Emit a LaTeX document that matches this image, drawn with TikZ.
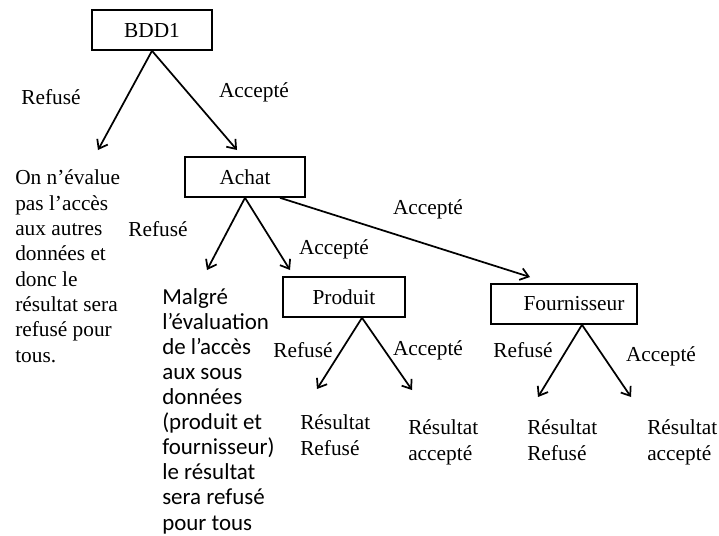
\documentclass[tikz,border=0pt]{standalone}
\usepackage{fontspec}
\setmainfont{Liberation Serif}
\newfontfamily\calib{Carlito}
\usetikzlibrary{arrows.meta}
\begin{document}
\begin{tikzpicture}[x=0.75pt,y=-0.75pt,
  box/.style={draw,line width=1.2pt,minimum width=90pt,minimum height=30pt,inner sep=0pt,font=\fontsize{16}{19}\selectfont},
  lbl/.style={inner sep=0pt,font=\fontsize{16}{19}\selectfont},
  txt/.style={inner sep=0pt,align=left,anchor=base west,font=\fontsize{16}{19}\selectfont},
  sans/.style={inner sep=0pt,align=left,anchor=base west,font=\calib\fontsize{17.2}{18.8}\selectfont},
  arr/.style={line width=1.3pt,-{Straight Barb[length=6pt,width=9pt,line width=1.3pt]}}]
\useasboundingbox (0,0) rectangle (719,536);

% decision boxes
\node[box] (bdd) at (152,30) {BDD1};
\node[box] (achat) at (245,177) {Achat};
\node[box,minimum width=91.5pt] (produit) at (344,297) {Produit};
\node[box,minimum width=109.5pt] (fourn) at (564,304) {\hspace{15pt}Fournisseur};

% arrow end points
\coordinate (t1) at (98,150);
\coordinate (t2) at (237,150);
\coordinate (t3) at (207,270);
\coordinate (t4) at (290,270);
\coordinate (t5) at (530,277);
\coordinate (t6) at (317,389);
\coordinate (t7) at (412,390);
\coordinate (t8) at (538,397);
\coordinate (t9) at (631,397);

\draw[arr] (bdd.south) -- (t1);
\draw[arr] (bdd.south) -- (t2);
\draw[arr] (achat.south) -- (t3);
\draw[arr] (achat.south) -- (t4);
\draw[arr] ([xshift=26.25pt]achat.south) -- (t5);
\draw[arr] ([xshift=13.5pt]produit.south) -- (t6);
\draw[arr] ([xshift=13.5pt]produit.south) -- (t7);
\draw[arr] ([xshift=13.5pt]fourn.south) -- (t8);
\draw[arr] ([xshift=13.5pt]fourn.south) -- (t9);

% branch labels
\node[lbl] (l1) at (51,97) {Refusé};
\node[lbl] (l2) at (254,92) {Accepté};
\node[lbl] (l3) at (158,229) {Refusé};
\node[lbl] (l4) at (334,249) {Accepté};
\node[lbl] (l5) at (428,209) {Accepté};
\node[lbl] (l6) at (303,350) {Refusé};
\node[lbl] (l7) at (428,350) {Accepté};
\node[lbl] (l8) at (523,350) {Refusé};
\node[lbl] (l9) at (661,356) {Accepté};

% outcomes (placed by the baseline of their last line)
\node[txt] (r1) at (15,362) {On n’évalue\\pas l’accès\\aux autres\\données et\\donc le\\résultat sera\\refusé pour\\tous.};
\node[sans] (r2) at (162,530) {Malgré\\l’évaluation\\de l’accès\\aux sous\\données\\(produit et\\fournisseur)\\le résultat\\sera refusé\\pour tous};
\node[txt] (r3) at (300,455) {Résultat\\Refusé};
\node[txt] (r4) at (408,460) {Résultat\\accepté};
\node[txt] (r5) at (527,460) {Résultat\\Refusé};
\node[txt] (r6) at (647,460) {Résultat\\accepté};
\end{tikzpicture}
\end{document}
